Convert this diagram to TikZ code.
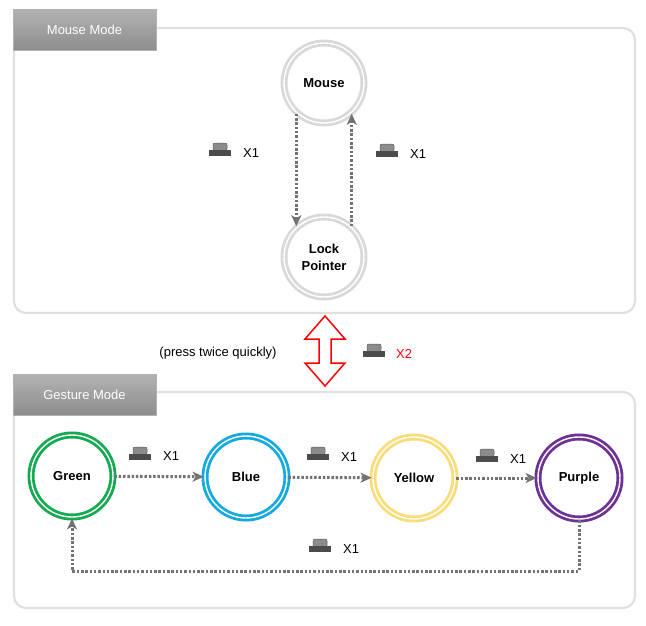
\documentclass[tikz,border=0pt]{standalone}
\usepackage{fontspec}
\setmainfont{Liberation Sans}
\usetikzlibrary{arrows.meta}
\begin{document}
\begin{tikzpicture}[x=1pt,y=-1pt,
 panel/.style={draw=blue!8!black!12,line width=2.2pt,rounded corners=12pt},
 tab/.style={top color=black!30,bottom color=black!45,draw=black!30,text=white,font=\fontsize{13}{15}\selectfont,minimum width=143pt,minimum height=41pt,inner sep=0pt},
 st/.style={circle,draw=#1,line width=2.8pt,double=white,double distance=1.4pt,minimum size=80pt,inner sep=0pt,font=\bfseries\fontsize{13}{17}\selectfont,align=center,text=black},
 flow/.style={draw=black!55,line width=3pt,dash pattern=on 2.5pt off 1.8pt,-{Stealth[length=11pt,width=10pt,inset=3pt]}},
 lbl/.style={font=\fontsize{13}{15}\selectfont,anchor=west,inner sep=0pt}]
\useasboundingbox (0,0) rectangle (646,626);
\definecolor{cgreen}{RGB}{20,170,80}
\definecolor{cblue}{RGB}{20,170,225}
\definecolor{cyellow}{RGB}{250,220,120}
\definecolor{cpurple}{RGB}{110,50,150}
\newcommand{\btn}[2]{%
 \fill[black!45,draw=black!65,line width=0.5pt,rounded corners=2pt] (#1-7,#2-1) rectangle (#1+7,#2-9);
 \fill[black!70] (#1-11,#2-2) rectangle (#1+11,#2+4);}
\draw[panel] (14,28) rectangle (635,313);
\draw[panel] (14,392) rectangle (635,608);
\node[tab] (tm) at (84.5,30) {Mouse Mode};
\node[tab] (tg) at (84.5,395) {Gesture Mode};
\node[st=black!15] (mouse) at (324,83) {Mouse};
\node[st=black!15] (lock) at (324,257) {Lock\\Pointer};
\node[st=cgreen,minimum size=82pt] (green) at (72,476) {Green};
\node[st=cblue,minimum size=82pt] (blue) at (246,477) {Blue};
\node[st=cyellow,minimum size=82pt] (yellow) at (414,478) {Yellow};
\node[st=cpurple,minimum size=82pt] (purple) at (579,478) {Purple};
\draw[flow] (mouse.-132) -- (lock.132);
\draw[flow] (lock.48) -- (mouse.-48);
\draw[flow] (green) -- (blue);
\draw[flow] (blue) -- (yellow);
\draw[flow] (yellow) -- (purple);
\coordinate (c1) at (579,571); \coordinate (c2) at (72,571);
\draw[flow] (purple.south) -- (c1) -- (c2) -- (green.south);
\draw[red,line width=1.5pt,fill=white] (325,316) -- (345,339) -- (331,339) -- (331,363) -- (345,363) -- (325,386) -- (305,363) -- (319,363) -- (319,339) -- (305,339) -- cycle;
\node[font=\fontsize{13}{15}\selectfont] (press) at (218,353) {(press twice quickly)};
\btn{220}{152} \node[lbl] (x1a) at (243,153) {X1};
\btn{387}{153} \node[lbl] (x1b) at (410,154) {X1};
\btn{374}{353} \node[lbl,text=red] (x2) at (396,354) {X2};
\btn{140}{456} \node[lbl] (x1c) at (163,456) {X1};
\btn{318}{456} \node[lbl] (x1d) at (341,457) {X1};
\btn{487}{458} \node[lbl] (x1e) at (510,459) {X1};
\btn{320}{548} \node[lbl] (x1f) at (343,549) {X1};
\end{tikzpicture}
\end{document}
